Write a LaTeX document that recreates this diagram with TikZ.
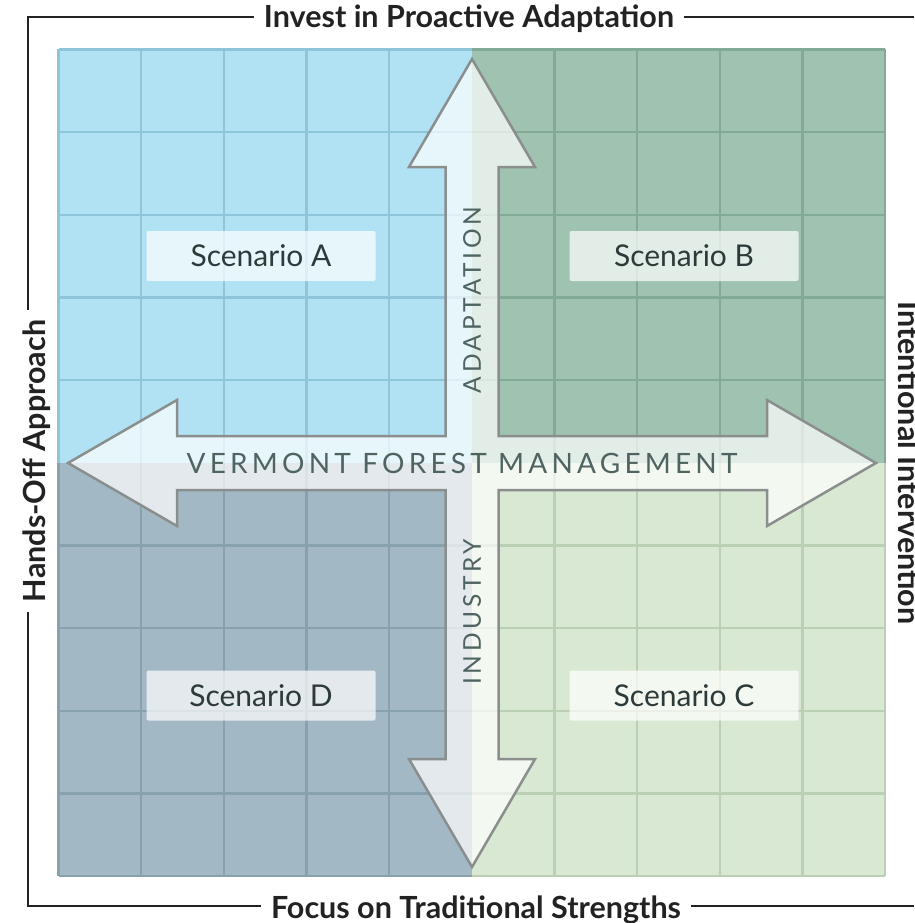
\documentclass[tikz,border=0pt]{standalone}
\usepackage{fontspec}
\setmainfont{Lato}
\newfontfamily\spacedfont[LetterSpace=15]{Lato}
\usetikzlibrary{calc}

\definecolor{quadA}{HTML}{B1E2F4}\definecolor{gridA}{HTML}{8FC5D8}
\definecolor{quadB}{HTML}{A0C3B1}\definecolor{gridB}{HTML}{83AA96}
\definecolor{quadC}{HTML}{D8E8D2}\definecolor{gridC}{HTML}{BACFB4}
\definecolor{quadD}{HTML}{A2B8C4}\definecolor{gridD}{HTML}{87A1AE}
\definecolor{arrowline}{HTML}{8A8F8E}
\definecolor{axistext}{HTML}{4F6461}
\definecolor{scentext}{HTML}{2C3B39}
\definecolor{framecol}{HTML}{222222}

\tikzset{
  gridline/.style={line width=2.4pt},
  frameline/.style={draw=framecol, line width=1.5pt},
  framelabel/.style={font=\bfseries\fontsize{30.5}{34}\selectfont, text=framecol, inner xsep=10pt, inner ysep=0pt, anchor=base},
  scenbox/.style={fill=white, fill opacity=0.7, text opacity=1, rounded corners=2pt, minimum width=229pt, minimum height=50pt, font=\fontsize{30}{34}\selectfont, text=scentext},
  axislabel/.style={font=\spacedfont\fontsize{28}{32}\selectfont, text=axistext},
  axisvert/.style={axislabel, font=\spacedfont\fontsize{24.5}{30}\selectfont, rotate=90},
  crossarrow/.style={fill=white, fill opacity=0.7, draw=arrowline, line width=2.5pt, line join=miter}
}

% x0, y0, fill, line, columns, rows
\newcommand{\drawquad}[6]{%
  \fill[#3] (#1,#2) rectangle ++(413.25,413.25);
  \foreach \i in {#5} \draw[#4, gridline] ({#1+\i*82.65},#2) -- ++(0,413.25);
  \foreach \j in {#6} \draw[#4, gridline] (#1,{#2+\j*82.65}) -- ++(413.25,0);
}

\begin{document}
\begin{tikzpicture}[x=1pt,y=-1pt]
\useasboundingbox (0,0) rectangle (914,923);
\def\CX{472};\def\CY{463};

\drawquad{58.5}{49.5}{quadA}{gridA}{0,...,4}{0,...,4}
\drawquad{471.75}{49.5}{quadB}{gridB}{1,...,5}{0,...,4}
\drawquad{471.75}{462.75}{quadC}{gridC}{1,...,5}{1,...,5}
\drawquad{58.5}{462.75}{quadD}{gridD}{0,...,4}{1,...,5}

\draw[crossarrow] (\CX,59)--(535,167)--(498.5,167)--(498.5,436)--(767,436)--(767,400)--(876,\CY)
  --(767,526)--(767,490)--(498.5,490)--(498.5,759)--(535,759)--(\CX,867)--(409,759)--(445.5,759)
  --(445.5,490)--(177,490)--(177,526)--(68,\CY)--(177,400)--(177,436)--(445.5,436)--(445.5,167)
  --(409,167)--cycle;

\node[scenbox] (scenA) at (261,256) {Scenario A};
\node[scenbox] (scenB) at (684,256) {Scenario B};
\node[scenbox] (scenC) at (684,695.5) {Scenario C};
\node[scenbox] (scenD) at (261,695.5) {Scenario D};

\node[axislabel] (vfm) at (462,\CY) {VERMONT FOREST MANAGEMENT};
\node[axisvert] (adapt) at (\CX,300) {ADAPTATION};
\node[axisvert] (indus) at (\CX,612) {INDUSTRY};

\coordinate (tl) at (28,17);
\coordinate (bl) at (28,906);
\coordinate (tr) at (914,17);
\coordinate (br) at (914,906);
\node[framelabel] (invest) at (469,28) {Invest in Proactive Adaptation};
\node[framelabel] (focus) at (476,918) {Focus on Traditional Strengths};
\node[framelabel, rotate=90] (hands) at (45,461) {Hands-Off Approach};
\node[framelabel, rotate=-90] (intent) at (898,463) {Intentional Intervention};

\draw[frameline] (invest.west |- tl) -- (tl) -- (tl |- hands.east);
\draw[frameline] (hands.west -| bl) -- (bl) -- (bl -| focus.west);
\draw[frameline] (invest.east |- tl) -- (tr);
\draw[frameline] (focus.east |- bl) -- (br);
\end{tikzpicture}
\end{document}
